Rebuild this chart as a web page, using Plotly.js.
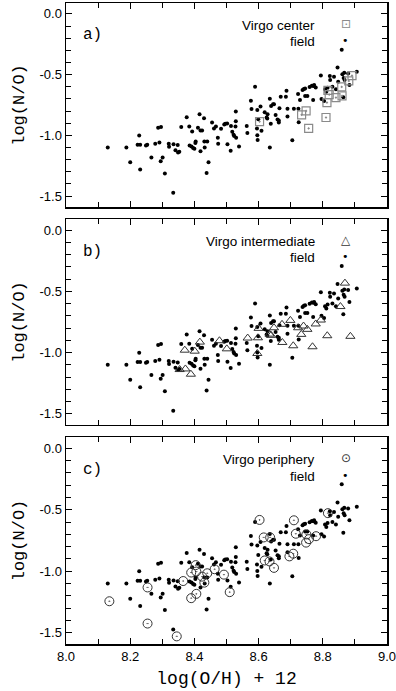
<!DOCTYPE html>
<html>
<head>
<meta charset="utf-8">
<script src="https://cdn.plot.ly/plotly-3.0.1.min.js"></script>
<style>html,body{margin:0;padding:0;background:#fff;}#chart{width:396px;height:691px;}</style>
</head>
<body>
<div id="chart"></div>
<script>
// Field galaxies (same in all panels)
const fieldOH = [8.130,8.188,8.200,8.228,8.223,8.231,8.231,8.249,8.253,8.266,8.278,8.287,8.296,8.291,8.295,8.301,8.308,8.320,8.321,8.335,8.348,8.341,8.349,8.353,8.334,8.359,8.376,8.384,8.393,8.385,8.391,8.396,8.400,8.403,8.404,8.411,8.416,8.419,8.419,8.424,8.430,8.431,8.432,8.440,8.444,8.438,8.455,8.461,8.467,8.473,8.474,8.483,8.493,8.496,8.502,8.503,8.513,8.514,8.518,8.522,8.524,8.528,8.529,8.529,8.530,8.539,8.563,8.565,8.576,8.578,8.589,8.595,8.596,8.596,8.597,8.599,8.606,8.609,8.619,8.625,8.628,8.627,8.635,8.638,8.639,8.635,8.645,8.648,8.653,8.659,8.663,8.665,8.663,8.669,8.687,8.685,8.690,8.690,8.705,8.710,8.724,8.725,8.723,8.729,8.737,8.741,8.745,8.752,8.745,8.759,8.766,8.771,8.773,8.778,8.770,8.794,8.796,8.804,8.807,8.811,8.815,8.822,8.823,8.830,8.835,8.841,8.846,8.848,8.859,8.861,8.865,8.867,8.864,8.868,8.879,8.883,8.906];
const fieldNO = [-1.099,-1.099,-1.222,-1.000,-1.077,-1.077,-1.282,-1.083,-1.077,-1.183,-1.069,-0.938,-0.930,-1.058,-1.213,-1.183,-1.314,-1.069,-1.093,-1.074,-1.080,-1.123,-1.142,-1.134,-1.473,-0.930,-0.851,-0.927,-0.968,-1.083,-1.091,-1.104,-1.110,-1.063,-1.050,-0.938,-0.826,-0.960,-1.131,-0.960,-0.859,-1.050,-1.099,-1.050,-1.222,-1.309,-0.894,-0.944,-0.927,-1.019,-1.069,-0.946,-0.911,-0.905,-0.902,-1.074,-1.126,-0.922,-0.970,-0.995,-1.006,-0.927,-0.883,-0.804,-1.019,-1.091,-0.922,-0.981,-0.714,-0.783,-0.599,-0.944,-0.791,-0.998,-1.039,-0.867,-0.763,-0.962,-0.810,-0.853,-0.826,-0.861,-0.698,-0.905,-0.758,-1.099,-0.744,-0.744,-0.832,-0.870,-0.878,-0.777,-0.894,-0.682,-0.632,-0.682,-0.780,-0.845,-1.041,-0.780,-0.780,-0.892,-0.659,-0.709,-0.627,-0.618,-0.676,-0.676,-0.613,-0.602,-0.591,-0.594,-0.586,-0.605,-0.709,-0.507,-0.700,-0.717,-0.621,-0.640,-0.608,-0.512,-0.545,-0.599,-0.518,-0.621,-0.441,-0.558,-0.294,-0.496,-0.528,-0.485,-0.687,-0.545,-0.490,-0.586,-0.476];

// Virgo center (panel a)
const centerOH = [8.603,8.734,8.748,8.756,8.810,8.813,8.816,8.820,8.841,8.860,8.859,8.881,8.891];
const centerNO = [-0.886,-0.831,-0.799,-0.943,-0.853,-0.730,-0.629,-0.664,-0.689,-0.675,-0.601,-0.552,-0.508];

// Virgo intermediate (panel b)
const interOH = [8.370,8.401,8.417,8.354,8.372,8.389,8.478,8.501,8.566,8.598,8.600,8.596,8.634,8.639,8.648,8.673,8.674,8.699,8.708,8.723,8.733,8.740,8.752,8.768,8.778,8.794,8.814,8.855,8.869,8.886];
const interNO = [-0.980,-0.988,-0.914,-1.138,-1.133,-1.176,-0.903,-0.969,-0.881,-0.879,-0.802,-1.007,-0.849,-0.859,-0.797,-0.769,-0.917,-0.737,-0.944,-0.797,-0.851,-0.783,-0.810,-0.952,-0.766,-0.734,-0.862,-0.624,-0.433,-0.867];

// Virgo periphery (panel c)
const periOH = [8.135,8.254,8.254,8.345,8.365,8.390,8.390,8.404,8.406,8.406,8.424,8.431,8.440,8.463,8.492,8.510,8.603,8.616,8.636,8.619,8.634,8.648,8.696,8.708,8.710,8.716,8.748,8.749,8.757,8.779,8.816];
const periNO = [-1.243,-1.131,-1.424,-1.528,-1.079,-1.010,-1.218,-0.950,-1.002,-1.183,-1.043,-1.092,-1.016,-0.983,-1.027,-1.169,-0.583,-0.725,-0.725,-0.912,-0.920,-0.972,-0.879,-0.857,-0.586,-0.695,-0.767,-0.701,-0.739,-0.715,-0.528];

const panelLabels = ['a)','b)','c)'];
const virgoNames = ['Virgo center','Virgo intermediate','Virgo periphery'];
const fieldName = 'field';
const xTickVals = [8.0, 8.2, 8.4, 8.6, 8.8, 9.0];
const xTickText = ['8.0','8.2','8.4','8.6','8.8','9.0'];
const yTickVals = [0, -0.5, -1.0, -1.5];
const yTickText = ['0.0','-0.5','-1.0','-1.5'];
const xTitle = 'log(O/H) + 12';
const yTitle = 'log(N/O)';

const virgoSets = [[centerOH, centerNO],[interOH, interNO],[periOH, periNO]];
const virgoStyle = [
  {symbol:'square-open-dot', size:8, color:'#8a8a8a', lw:1.2},
  {symbol:'triangle-up-open', size:8, color:'#333333', lw:1},
  {symbol:'circle-open-dot', size:9, color:'#333333', lw:1}
];
const legendGlyph = ['\u22A1','\u25B3','\u2299'];

const traces = [];
for (let i=0;i<3;i++){
  const xa = i===0?'x':'x'+(i+1);
  const ya = i===0?'y':'y'+(i+1);
  traces.push({x:fieldOH, y:fieldNO, xaxis:xa, yaxis:ya, type:'scatter', mode:'markers',
    marker:{color:'#000', size:4}, hoverinfo:'skip', showlegend:false});
  const s = virgoStyle[i];
  traces.push({x:virgoSets[i][0], y:virgoSets[i][1], xaxis:xa, yaxis:ya, type:'scatter', mode:'markers',
    marker:{symbol:s.symbol, size:s.size, color:s.color, line:{color:s.color, width:s.lw}}, hoverinfo:'skip', showlegend:false});
}

const domains = [[0.6817,1],[0.3417,0.6630],[0,0.3229]];
const layout = {
  width:396, height:691,
  margin:{l:66, r:9, t:3, b:47},
  paper_bgcolor:'#fff', plot_bgcolor:'#fff',
  showlegend:false,
  font:{family:'Liberation Sans, Arial, sans-serif', size:12, color:'#000'},
  annotations:[]
};
for (let i=0;i<3;i++){
  const sfx = i===0?'':(i+1);
  layout['xaxis'+sfx] = {
    domain:[0,1], anchor:'y'+sfx, range:[7.9999,9.0001],
    tickvals:xTickVals, ticktext:xTickText, ticklabeloverflow:'allow',
    ticks:'inside', ticklen:6, tickwidth:1, tickcolor:'#000',
    minor:{dtick:0.1, tick0:8.0, ticks:'inside', ticklen:5, tickcolor:'#000'},
    showline:true, linecolor:'#000', linewidth:1.5, mirror:'allticks',
    showgrid:false, zeroline:false, showticklabels:(i===2),
    tickfont:{family:'Liberation Sans, Arial, sans-serif', size:13, color:'#000'},
    title: i===2 ? {text:xTitle, font:{family:'Liberation Mono, Courier New, monospace', size:18, color:'#000'}, standoff:8} : {text:''}
  };
  layout['yaxis'+sfx] = {
    domain:domains[i], anchor:'x'+sfx, range:[-1.59,0.09],
    tickvals:yTickVals, ticktext:yTickText,
    ticks:'inside', ticklen:6, tickwidth:1, tickcolor:'#000',
    minor:{dtick:0.1, tick0:0, ticks:'inside', ticklen:5, tickcolor:'#000'},
    showline:true, linecolor:'#000', linewidth:1.5, mirror:'allticks',
    showgrid:false, zeroline:false,
    tickfont:{family:'Liberation Sans, Arial, sans-serif', size:13, color:'#000'},
    title:{text:yTitle, font:{family:'Liberation Mono, Courier New, monospace', size:17, color:'#000'}, standoff:10}
  };
  const xr = 'x'+sfx+' domain', yr = 'y'+sfx+' domain';
  layout.annotations.push({xref:xr, yref:yr, x:0.048, y:0.895, xanchor:'left', text:panelLabels[i], showarrow:false,
    font:{family:'Liberation Mono, Courier New, monospace', size:16, color:'#000'}});
  layout.annotations.push({xref:xr, yref:yr, x:0.782, y:0.935, xanchor:'right', text:virgoNames[i], showarrow:false,
    font:{family:'Liberation Sans, Arial, sans-serif', size:13.5, color:'#000'}});
  layout.annotations.push({xref:xr, yref:yr, x:0.782, y:0.857, xanchor:'right', text:fieldName, showarrow:false,
    font:{family:'Liberation Sans, Arial, sans-serif', size:13.5, color:'#000'}});
  layout.annotations.push({xref:xr, yref:yr, x:0.872, y:0.94, xanchor:'center', text:legendGlyph[i], showarrow:false,
    font:{family:'DejaVu Sans, sans-serif', size:12, color:virgoStyle[i].color}});
  layout.annotations.push({xref:xr, yref:yr, x:0.872, y:0.857, xanchor:'center', text:'\u2022', showarrow:false,
    font:{family:'DejaVu Sans, sans-serif', size:11, color:'#000'}});
}
Plotly.newPlot('chart', traces, layout, {staticPlot:true, displayModeBar:false});
</script>
</body>
</html>
